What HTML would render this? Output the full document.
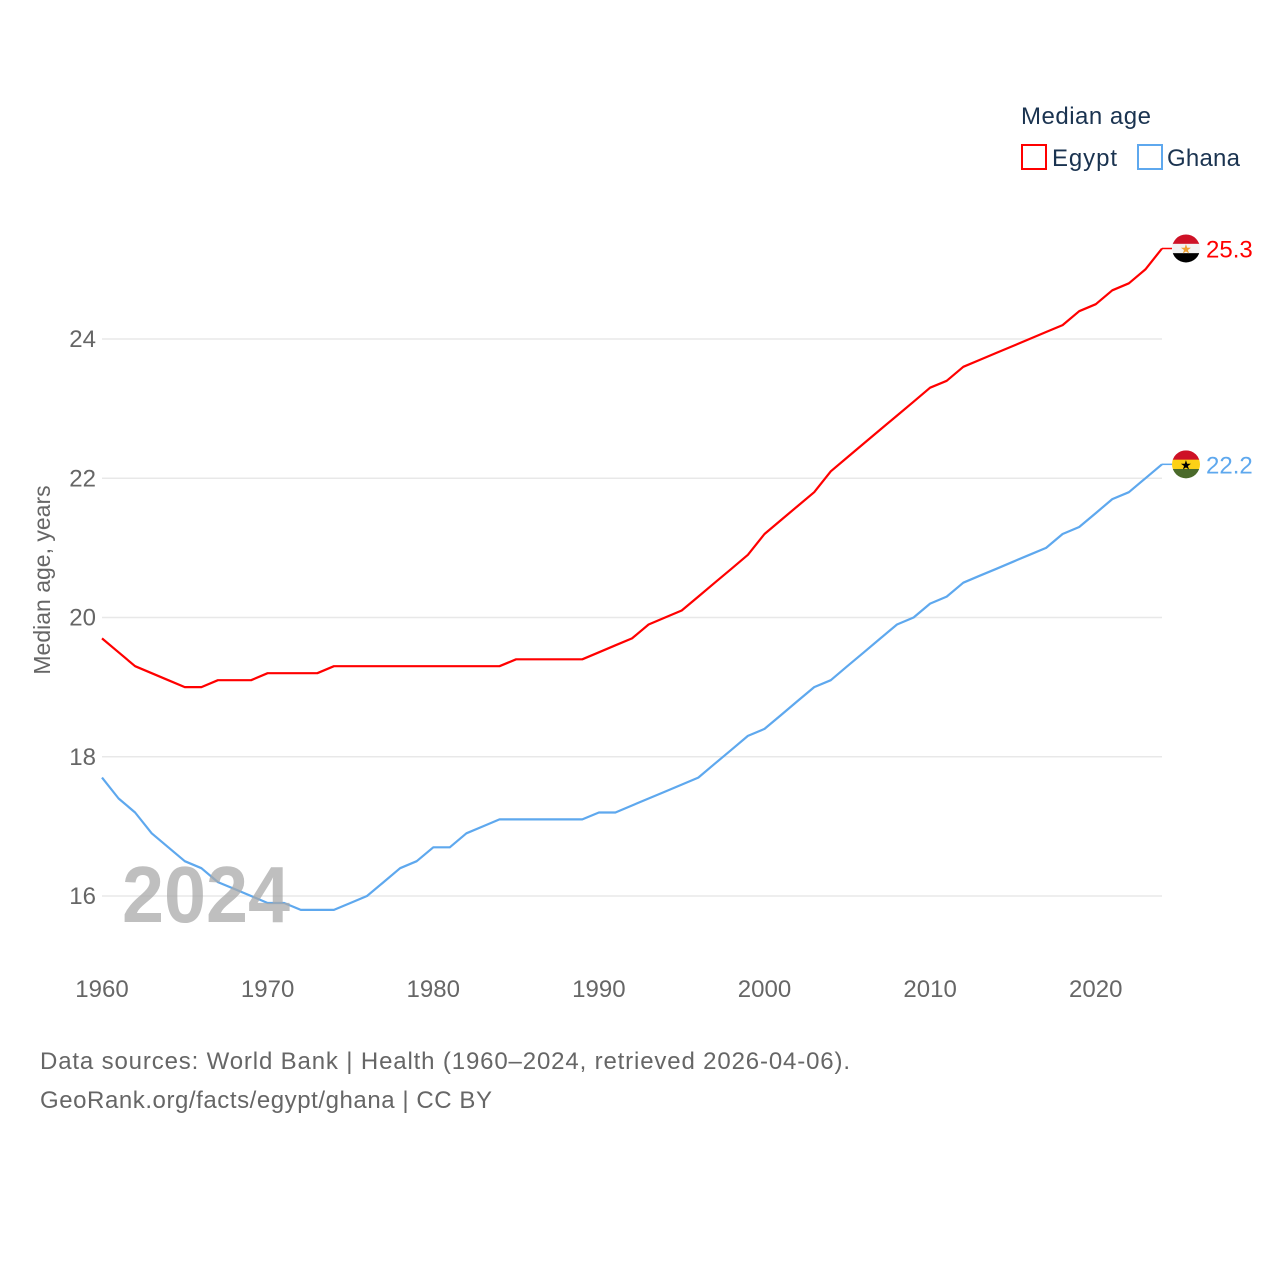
<!DOCTYPE html>
<html><head><meta charset="utf-8">
<style>
html,body{margin:0;padding:0;background:#fff;}
svg{display:block;font-family:"Liberation Sans",sans-serif;}
</style></head>
<body>
<svg id="chart" width="1280" height="1280" viewBox="0 0 1280 1280">
<g id="grid"></g>
<g id="yticks"></g>
<g id="xticks"></g>
<text transform="translate(50,580) rotate(-90)" text-anchor="middle" font-size="23" fill="#666">Median age, years</text>
<g id="series"></g>
<text x="122" y="922" font-size="80" font-weight="bold" fill="#aaa" fill-opacity="0.75" textLength="168" lengthAdjust="spacingAndGlyphs">2024</text>
<g id="ends"></g>
<g>
<text x="1021" y="124" font-size="24" fill="#1a3350" textLength="130">Median age</text>
<g>
<rect x="1022" y="145" width="24" height="24" fill="none" stroke="#ff0000" stroke-width="2"/>
<text x="1052" y="166" font-size="24" fill="#1a3350" textLength="65">Egypt</text></g>
<g>
<rect x="1138" y="145" width="24" height="24" fill="none" stroke="#5ea8ee" stroke-width="2"/>
<text x="1167" y="166" font-size="24" fill="#1a3350" textLength="73">Ghana</text></g>
</g>
<text x="40" y="1069" font-size="24" fill="#666" textLength="810">Data sources: World Bank | Health (1960–2024, retrieved 2026-04-06).</text>
<text x="40" y="1108" font-size="24" fill="#666" textLength="452">GeoRank.org/facts/egypt/ghana | CC BY</text>
</svg>
<script>
const years = [];
for (let y = 1960; y <= 2024; y++) years.push(y);
const egypt = [19.7,19.5,19.3,19.2,19.1,19.0,19.0,19.1,19.1,19.1,19.2,19.2,19.2,19.2,19.3,19.3,19.3,19.3,19.3,19.3,19.3,19.3,19.3,19.3,19.3,19.4,19.4,19.4,19.4,19.4,19.5,19.6,19.7,19.9,20.0,20.1,20.3,20.5,20.7,20.9,21.2,21.4,21.6,21.8,22.1,22.3,22.5,22.7,22.9,23.1,23.3,23.4,23.6,23.7,23.8,23.9,24.0,24.1,24.2,24.4,24.5,24.7,24.8,25.0,25.3];
const ghana = [17.7,17.4,17.2,16.9,16.7,16.5,16.4,16.2,16.1,16.0,15.9,15.9,15.8,15.8,15.8,15.9,16.0,16.2,16.4,16.5,16.7,16.7,16.9,17.0,17.1,17.1,17.1,17.1,17.1,17.1,17.2,17.2,17.3,17.4,17.5,17.6,17.7,17.9,18.1,18.3,18.4,18.6,18.8,19.0,19.1,19.3,19.5,19.7,19.9,20.0,20.2,20.3,20.5,20.6,20.7,20.8,20.9,21.0,21.2,21.3,21.5,21.7,21.8,22.0,22.2];
const yTicks = [16,18,20,22,24];
const xTicks = [1960,1970,1980,1990,2000,2010,2020];
const NS = "http://www.w3.org/2000/svg";
function X(yr){ return 102 + (yr-1960)*(1162-102)/64; }
function Y(v){ return 896 - (v-16)*(896-339)/8; }
function mk(tag, attrs, parent){ const e=document.createElementNS(NS,tag); for(const k in attrs) e.setAttribute(k,attrs[k]); parent.appendChild(e); return e; }
const grid=document.getElementById('grid'), yt=document.getElementById('yticks'), xt=document.getElementById('xticks');
yTicks.forEach(v=>{
  const l=mk('line',{x1:102,x2:1162,y1:Y(v),y2:Y(v),stroke:'#e8e8e8','stroke-width':1.5},grid);
  
  
  const t=mk('text',{x:96,y:Y(v)+8,'text-anchor':'end','font-size':24,fill:'#666'},yt);
  t.textContent=v;
  
  
});
xTicks.forEach(v=>{
  const t=mk('text',{x:X(v),y:997,'text-anchor':'middle','font-size':24,fill:'#666'},xt);
  t.textContent=v;
  
  
});
const ser=document.getElementById('series'), ends=document.getElementById('ends');
function drawSeries(vals,color,name,flag){
  const pts=vals.map((v,i)=>X(years[i]).toFixed(1)+','+Y(v).toFixed(1)).join(' ');
  const p=mk('polyline',{points:pts,fill:'none',stroke:color,'stroke-width':2.2,'stroke-linejoin':'round'},ser);
  
  
  const last=vals[vals.length-1], ly=Y(last);
  const c=mk('line',{x1:X(2024),x2:1172,y1:ly,y2:ly,stroke:color,'stroke-width':1.5},ends);
  
  
  const g=mk('g',{},ends);
  
  
  const cx=1186,r=14;
  const cid='clip-'+name;
  const cp=mk('clipPath',{id:cid},g); mk('circle',{cx:cx,cy:ly,r:r},cp);
  flag.forEach((col,i)=>mk('rect',{x:cx-r,y:ly-r+i*2*r/3,width:2*r,height:2*r/3+0.5,fill:col,'clip-path':'url(#'+cid+')'},g));
  const star=mk('text',{x:cx,y:ly+5,'text-anchor':'middle','font-size':13,fill:name==='egypt'?'#f0a030':'#000'},g);
  star.textContent='★';
  const t=mk('text',{x:1206,y:ly+9,'font-size':24,fill:color},ends);
  t.textContent=last.toFixed(1);
  
  
}
drawSeries(egypt,'#ff0000','egypt',['#ce1126','#f2f2f2','#000']);
drawSeries(ghana,'#5ea8ee','ghana',['#ce1126','#fcd116','#4a6a2a']);
</script>
</body></html>
